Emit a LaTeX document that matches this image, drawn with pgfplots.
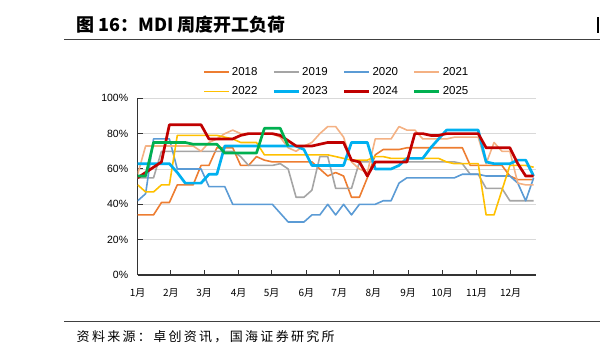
\documentclass[border=0pt]{standalone}
\usepackage{fontspec}
\setmainfont{Liberation Sans}
\newfontfamily\cjk{Noto Sans CJK SC}
\usepackage{pgfplots}
\usepackage{pgfplotstable}
\pgfplotsset{compat=1.18}

\definecolor{c18}{HTML}{ED7D31}
\definecolor{c19}{HTML}{A5A5A5}
\definecolor{c20}{HTML}{5B9BD5}
\definecolor{c21}{HTML}{F4B183}
\definecolor{c22}{HTML}{FFC000}
\definecolor{c23}{HTML}{00B0F0}
\definecolor{c24}{HTML}{C00000}
\definecolor{c25}{HTML}{00B050}

\pgfplotstableread{
w a b c d e f g h
0 34 55 42 57 51 63 55 56
1 34 55 46 73 47 63 58 56
2 34 55 77 73 47 63 61 75
3 41 70 77 73 51 63 64 75
4 41 70 77 73 51 63 85 75
5 51 70 60 73 79 58 85 75
6 51 70 60 73 79 52 85 75
7 51 70 60 73 79 52 85 74
8 62 70 60 70 79 52 85 74
9 62 70 50 75 79 57 77 74
10 72 70 50 77 79 57 77 74
11 72 70 50 80 78 73 77 69
12 72 70 40 82 77 73 77 69
13 62 67 40 80 75 73 79 69
14 62 62 40 80 75 73 80 69
15 67 62 40 80 75 73 80 69
16 65 62 40 80 68 73 80 83
17 64 62 40 80 68 73 80 83
18 64 63 35 78 68 73 79 83
19 64 60 30 72 68 73 76 73
20 64 44 30 70 68 73 73 nan
21 64 44 30 73 68 71 73 nan
22 64 48 34 75 68 62 73 nan
23 60 67 34 80 68 62 74 nan
24 56 67 40 84 68 62 75 nan
25 58 49 34 84 67 62 75 nan
26 56 49 40 78 66 62 75 nan
27 44 49 34 64 65 75 65 nan
28 44 64 40 60 65 75 64 nan
29 55 64 40 58 65 75 56 nan
30 68 64 40 77 67 60 64 nan
31 71 64 42 77 67 60 64 nan
32 71 64 42 77 66 60 64 nan
33 71 64 52 84 66 62 64 nan
34 72 64 55 82 66 66 64 nan
35 72 64 55 82 66 66 80 nan
36 72 64 55 77 66 66 80 nan
37 72 64 55 77 66 72 79 nan
38 72 64 55 77 66 77 79 nan
39 72 64 55 77 64 82 80 nan
40 72 64 55 78 63 82 80 nan
41 72 63 57 78 63 82 80 nan
42 62 57 57 78 63 82 80 nan
43 62 57 57 78 63 82 80 nan
44 62 49 56 63 34 64 72 nan
45 62 49 56 75 34 63 72 nan
46 62 49 56 70 48 63 72 nan
47 56 42 56 70 62 63 72 nan
48 54 42 52 52 62 65 63 nan
49 54 42 42 51 62 65 56 nan
50 54 42 55 51 61 56 56 nan
}\data

\begin{document}
\begin{tikzpicture}
\path[use as bounding box] (0pt,0pt) rectangle (600pt,355pt);
% title
\node[anchor=west, inner sep=0pt, font=\cjk\bfseries\fontsize{18}{18}\selectfont] at (76pt,330.5pt) {图 16：MDI 周度开工负荷};
\draw[line width=1pt, black!75] (64pt,315pt) -- (600pt,315pt);
\fill[black] (596.5pt,322pt) rectangle (598.5pt,338pt);
% source
\draw[line width=1pt, black!75] (64pt,33pt) -- (600pt,33pt);
\node[anchor=west, inner sep=0pt, font=\cjk\fontsize{13}{13}\selectfont] at (76.5pt,18pt)
  {\hbox to 258pt{资\hfill 料\hfill 来\hfill 源\hfill ：\hfill 卓\hfill 创\hfill 资\hfill 讯\hfill ，\hfill 国\hfill 海\hfill 证\hfill 券\hfill 研\hfill 究\hfill 所}};
\begin{axis}[
  at={(137.7pt,80pt)}, anchor=south west,
  scale only axis, width=398.3pt, height=176.7pt,
  xmin=0, xmax=50.3, ymin=0, ymax=100,
  axis x line*=bottom, axis y line*=left,
  axis line style={black!80, line width=1.2pt},
  xtick={0,4.2,8.4,12.75,16.9,21.3,25.45,29.75,34.15,38.45,42.8,47.1},
  xticklabels={1月,2月,3月,4月,5月,6月,7月,8月,9月,10月,11月,12月},
  ytick={0,20,40,60,80,100},
  yticklabel={\pgfmathprintnumber{\tick}\%},
  /pgf/number format/assume math mode=true,
  ymajorgrids, grid style={black!15, line width=0.9pt},
  tick align=inside, major tick length=5pt,
  tick style={black!80, line width=1pt},
  x tick label style={font=\cjk\fontsize{10}{10}\selectfont, yshift=-10pt},
  y tick label style={font=\fontsize{10.5}{10.5}\selectfont, xshift=-6pt},
  legend columns=4,
  legend style={draw=none, fill=none, at={(0.5,1.0)}, anchor=south,
    font=\fontsize{11.5}{11.5}\selectfont, inner sep=0pt, row sep=6pt,
    /tikz/every even column/.append style={column sep=13pt}},
  legend image code/.code={\draw[#1] (0pt,0pt) -- (25pt,0pt);},
  legend cell align=left,
  every axis plot/.append style={line join=round, mark=none},
]
\addplot[c18, line width=1.6pt] table[x=w,y=a]{\data}; \addlegendentry{2018}
\addplot[c19, line width=1.6pt] table[x=w,y=b]{\data}; \addlegendentry{2019}
\addplot[c20, line width=1.6pt] table[x=w,y=c]{\data}; \addlegendentry{2020}
\addplot[c21, line width=1.6pt] table[x=w,y=d]{\data}; \addlegendentry{2021}
\addplot[c22, line width=1.6pt] table[x=w,y=e]{\data}; \addlegendentry{2022}
\addplot[c23, line width=2.7pt] table[x=w,y=f]{\data}; \addlegendentry{2023}
\addplot[c24, line width=2.7pt] table[x=w,y=g]{\data}; \addlegendentry{2024}
\addplot[c25, line width=2.7pt] table[x=w,y=h]{\data}; \addlegendentry{2025}
\end{axis}
\end{tikzpicture}
\end{document}
